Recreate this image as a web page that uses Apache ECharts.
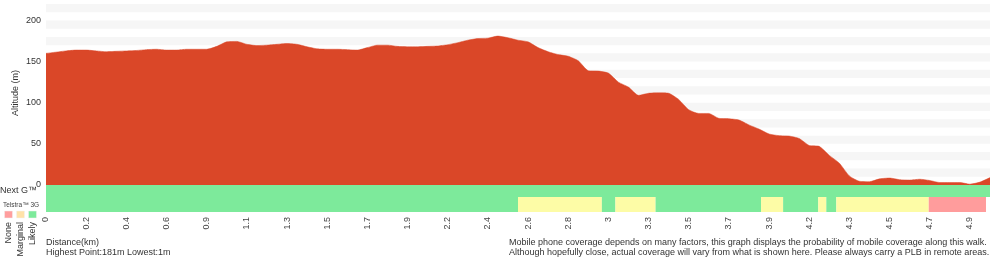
<!DOCTYPE html>
<html>
<head>
<meta charset="utf-8">
<style>
  html, body { margin: 0; padding: 0; background: #fff; }
  #chart { width: 1000px; height: 260px; }
</style>
<script src="https://cdn.jsdelivr.net/npm/echarts@6/dist/echarts.min.js"></script>
</head>
<body>
<div id="chart"></div>
<script>
// distance labels shown under every 4th profile point
var tickLabels = ['0', '0.2', '0.4', '0.6', '0.9', '1.1', '1.3', '1.5', '1.7', '1.9', '2.2', '2.4',
  '2.6', '2.8', '3', '3.3', '3.5', '3.7', '3.9', '4.2', '4.3', '4.5', '4.7', '4.9'];
var pointsPerTick = 4;

// altitude (m) along the walk
var altitude = [
  160, 161.5, 163, 164, 164, 163, 162, 162.5, 163, 163.5,
  164.5, 165, 164, 164, 165, 165, 165, 168.5, 174, 174.5,
  171, 169.5, 170, 171, 172, 171, 168, 165.5, 165, 165,
  164.5, 164, 167, 170, 170, 168.5, 168, 168, 168.5, 169,
  170.5, 173, 176, 178, 178.5, 181, 179, 176, 174, 167,
  162, 158.5, 156.5, 151, 139, 138.5, 136, 125, 119, 109,
  111.5, 112, 111.5, 104, 91.5, 87, 87, 81, 80.5, 79,
  73, 68, 62, 60, 59.5, 56.5, 48, 47, 36, 26.5,
  11, 4.5, 4, 7.5, 8.5, 6.5, 6, 7, 5.5, 3,
  3, 3, 1, 3.5, 9
];

// coverage segments: [from point, to point, level]
var nextG = [[0, 94, 'Likely']];
var telstra3G = [
  [0, 47, 'Likely'], [47, 55.35, 'Marginal'], [55.35, 56.7, 'Likely'], [56.7, 60.7, 'Marginal'],
  [60.7, 71.2, 'Likely'], [71.2, 73.4, 'Marginal'], [73.4, 76.9, 'Likely'], [76.9, 77.7, 'Marginal'],
  [77.7, 78.7, 'Likely'], [78.7, 87.9, 'Marginal'], [87.9, 93.6, 'None']
];
var levels = ['None', 'Marginal', 'Likely'];

(function() {
  var font = '"Liberation Sans", Arial, Helvetica, sans-serif';
  var ink = '#333';
  var profileColor = '#da4728';
  var levelColors = { None: '#ff9c9c', Marginal: '#fdfca6', Likely: '#7dea9b' };
  var legendColors = ['#ff9e9e', '#ffe2a9', '#7dea9b'];

  var categories = altitude.map(function(v, i) {
    return i % pointsPerTick === 0 ? (tickLabels[i / pointsPerTick] || '') : '';
  });
  var hi = Math.max.apply(null, altitude);
  var lo = Math.min.apply(null, altitude);

  var chart = echarts.init(document.getElementById('chart'), null, { renderer: 'canvas' });

  function coverageItem(params, api) {
    var a = api.coord([api.value(0), 0]);
    var b = api.coord([api.value(1), 0]);
    var cs = params.coordSys;
    return {
      type: 'rect',
      shape: { x: a[0], y: cs.y, width: b[0] - a[0], height: cs.height },
      style: { fill: levelColors[levels[api.value(2)]] }
    };
  }
  function toCoverageData(list) {
    return list.map(function(s) { return [s[0], s[1], levels.indexOf(s[2])]; });
  }

  var hiddenValueAxis = function(grid) {
    return { type: 'value', gridIndex: grid, min: 0, max: altitude.length - 1, show: false };
  };
  var hiddenY = function(grid) {
    return { type: 'value', gridIndex: grid, min: 0, max: 1, show: false };
  };

  var graphics = [
    { type: 'text', x: 16, y: 93, rotation: Math.PI / 2,
      style: { text: 'Altitude (m)', font: '9px ' + font, fill: ink, align: 'center', verticalAlign: 'middle' } },
    { type: 'text', x: 0, y: 191,
      style: { text: 'Next G\u2122', font: '9px ' + font, fill: ink, verticalAlign: 'middle' } },
    { type: 'text', x: 3, y: 205,
      style: { text: 'Telstra\u2122 3G', font: '6.5px ' + font, fill: '#444', verticalAlign: 'middle' } },
    { type: 'text', x: 46, y: 243,
      style: { text: 'Distance(km)', font: '9px ' + font, fill: ink, verticalAlign: 'middle' } },
    { type: 'text', x: 46, y: 253,
      style: { text: 'Highest Point:' + Math.round(hi) + 'm Lowest:' + Math.round(lo) + 'm', font: '9px ' + font, fill: ink, verticalAlign: 'middle' } },
    { type: 'text', x: 509, y: 243,
      style: { text: 'Mobile phone coverage depends on many factors, this graph displays the probability of mobile coverage along this walk.', font: '9px ' + font, fill: ink, verticalAlign: 'middle' } },
    { type: 'text', x: 509, y: 253,
      style: { text: 'Although hopefully close, actual coverage will vary from what is shown here. Please always carry a PLB in remote areas.', font: '9px ' + font, fill: ink, verticalAlign: 'middle' } }
  ];
  levels.forEach(function(name, i) {
    var cx = 8.5 + i * 12;
    graphics.push({ type: 'rect', shape: { x: cx - 4, y: 211, width: 8, height: 7 },
      style: { fill: legendColors[i], stroke: '#f0f0f0', lineWidth: 0.5 } });
    graphics.push({ type: 'text', x: cx, y: 222, rotation: Math.PI / 2,
      style: { text: name, font: '9px ' + font, fill: ink, align: 'right', verticalAlign: 'middle' } });
  });

  var option = {
    animation: false,
    textStyle: { fontFamily: font },
    grid: [
      { left: 46, right: 10, top: 4, height: 181 },
      { left: 46, right: 10, top: 185, height: 12 },
      { left: 46, right: 10, top: 197, height: 15 }
    ],
    xAxis: [
      {
        type: 'category', gridIndex: 0, data: categories, boundaryGap: false, offset: 27,
        axisLine: { show: false }, axisTick: { show: false },
        axisLabel: { interval: pointsPerTick - 1, rotate: 90, margin: 5, color: '#444', fontSize: 9, fontFamily: font }
      },
      hiddenValueAxis(1),
      hiddenValueAxis(2)
    ],
    yAxis: [
      {
        type: 'value', gridIndex: 0, min: 0, max: 220, interval: 10,
        axisLine: { show: false }, axisTick: { show: false }, splitLine: { show: false },
        splitArea: { show: true, areaStyle: { color: ['rgba(255,255,255,0)', '#f6f6f6'] } },
        axisLabel: {
          color: ink, fontSize: 9, fontFamily: font, margin: 5,
          formatter: function(v) { return v % 50 === 0 ? String(v) : ''; }
        }
      },
      hiddenY(1),
      hiddenY(2)
    ],
    graphic: graphics,
    series: [
      {
        type: 'line', xAxisIndex: 0, yAxisIndex: 0, data: altitude,
        symbol: 'none', smooth: 0.2,
        lineStyle: { width: 0.5, color: profileColor },
        areaStyle: { color: profileColor, opacity: 1 }
      },
      { type: 'custom', xAxisIndex: 1, yAxisIndex: 1, renderItem: coverageItem, data: toCoverageData(nextG) },
      { type: 'custom', xAxisIndex: 2, yAxisIndex: 2, renderItem: coverageItem, data: toCoverageData(telstra3G) }
    ]
  };

  chart.setOption(option);
  window.addEventListener('resize', function() { chart.resize(); });
})();
</script>
</body>
</html>
